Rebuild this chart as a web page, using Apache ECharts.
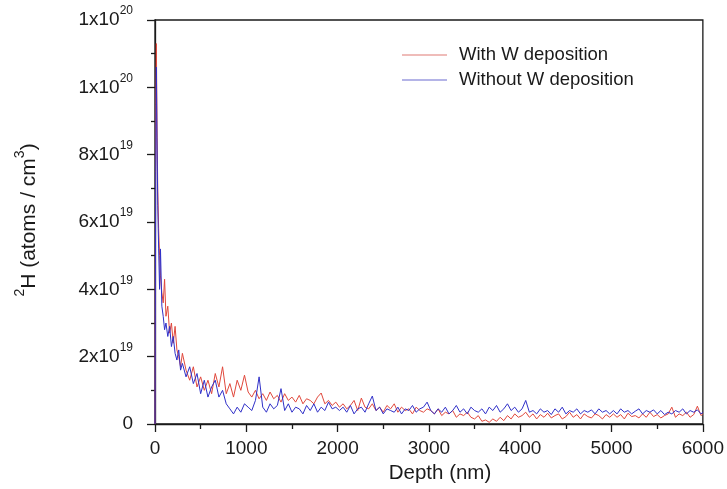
<!DOCTYPE html>
<html>
<head>
<meta charset="utf-8">
<script src="https://cdn.jsdelivr.net/npm/echarts@6/dist/echarts.min.js"></script>
<style>html,body{margin:0;padding:0;background:#fff}#c{width:727px;height:489px}</style>
</head>
<body>
<div id="c"></div>
<script>
// Depth in nm
var depth = [0,8,15,22,30,40,50,60,75,90,105,120,140,160,180,200,220,240,260,280,300,
340,380,420,460,500,540,580,620,660,700,740,780,820,860,900,940,980,
1020,1060,1100,1140,1180,1220,1260,1300,1340,1380,1420,1460,1500,1540,1580,1620,1660,1700,1740,1780,1820,1860,1900,1940,1980,
2020,2060,2100,2140,2180,2220,2260,2300,2340,2380,2420,2460,2500,2540,2580,2620,2660,2700,2740,2780,2820,2860,2900,2940,2980,
3020,3060,3100,3140,3180,3220,3260,3300,3340,3380,3420,3460,3500,3540,3580,3620,3660,3700,3740,3780,3820,3860,3900,3940,3980,
4020,4060,4100,4140,4180,4220,4260,4300,4340,4380,4420,4460,4500,4540,4580,4620,4660,4700,4740,4780,4820,4860,4900,4940,4980,
5020,5060,5100,5140,5180,5220,5260,5300,5340,5380,5420,5460,5500,5540,5580,5620,5660,5700,5740,5780,5820,5860,5900,5940,5980,
6000];
// 2H concentration, units of 1e19 atoms/cm3
var withW = [0,9.5,11.3,9.0,7.0,5.8,5.0,4.4,3.9,3.6,4.3,3.2,3.5,2.7,3.0,2.4,2.9,2.2,2.0,1.7,2.1,
1.6,1.3,1.7,1.1,1.4,1.0,1.3,0.9,1.5,1.1,1.7,0.9,1.2,0.8,1.3,1.0,1.45,
0.95,0.8,1.0,0.75,0.9,0.7,0.95,0.75,0.85,0.65,0.9,0.7,0.8,0.65,0.85,0.6,0.75,0.7,0.6,0.8,0.92,0.6,0.7,0.55,0.65,
0.5,0.6,0.45,0.55,0.7,0.4,0.77,0.5,0.45,0.6,0.4,0.5,0.35,0.55,0.45,0.6,0.35,0.5,0.4,0.45,0.3,0.5,0.4,0.35,0.45,
0.4,0.3,0.45,0.25,0.35,0.3,0.4,0.2,0.3,0.25,0.35,0.2,0.15,0.25,0.08,0.12,0.05,0.15,0.08,0.2,0.1,0.25,0.15,0.3,0.2,
0.25,0.35,0.2,0.3,0.15,0.28,0.2,0.32,0.18,0.25,0.3,0.15,0.22,0.35,0.2,0.28,0.15,0.3,0.22,0.18,0.3,0.25,0.15,0.28,0.2,
0.3,0.2,0.28,0.15,0.32,0.22,0.25,0.18,0.3,0.2,0.35,0.22,0.28,0.18,0.25,0.3,0.5,0.2,0.3,0.25,0.35,0.2,0.28,0.53,0.25,
0.3];
var withoutW = [0,7.5,10.6,8.5,6.5,5.2,4.0,5.2,3.5,3.2,2.8,3.0,2.6,2.9,2.3,2.6,2.1,1.9,2.2,1.6,1.8,
1.4,1.7,1.2,1.5,0.9,1.3,0.8,1.1,1.3,0.8,1.0,0.6,0.45,0.3,0.5,0.35,0.6,
0.5,0.4,0.7,1.4,0.5,0.35,0.6,0.45,0.55,1.05,0.4,0.6,0.35,0.5,0.45,0.3,0.55,0.4,0.6,0.35,0.5,0.4,0.65,0.45,0.5,
0.4,0.5,0.35,0.55,0.3,0.45,0.5,0.35,0.6,0.83,0.4,0.5,0.3,0.45,0.4,0.35,0.5,0.3,0.45,0.4,0.55,0.35,0.45,0.5,0.65,
0.4,0.3,0.45,0.35,0.5,0.3,0.4,0.55,0.35,0.45,0.3,0.5,0.4,0.35,0.45,0.3,0.5,0.4,0.55,0.35,0.45,0.6,0.4,0.5,0.35,
0.45,0.7,0.35,0.4,0.3,0.45,0.35,0.4,0.28,0.45,0.35,0.5,0.3,0.4,0.35,0.45,0.3,0.4,0.35,0.42,0.3,0.45,0.35,0.4,0.3,
0.4,0.3,0.45,0.35,0.4,0.3,0.38,0.45,0.3,0.4,0.35,0.42,0.3,0.4,0.28,0.35,0.3,0.4,0.35,0.45,0.3,0.4,0.35,0.42,0.3,
0.35];
var seriesNames = ['With W deposition', 'Without W deposition'];
var xTitle = 'Depth (nm)';
// y tick labels (value in 1e19 units -> mantissa, exponent)
var yTickValues = [0, 2, 4, 6, 8, 10, 12];
var yTickMantissa = ['0', '2', '4', '6', '8', '1', '1'];
var yTickExp = ['', '19', '19', '19', '19', '20', '20'];

function zip(xs, ys) { var o = []; for (var i = 0; i < xs.length; i++) o.push([xs[i], ys[i]]); return o; }

var chart = echarts.init(document.getElementById('c'));
var font = 'Liberation Sans, Arial, sans-serif';
var ink = '#1a1a1a';
chart.setOption({
  animation: false,
  backgroundColor: '#fff',
  grid: { left: 155, right: 22, top: 20, bottom: 65, show: true, borderColor: ink, borderWidth: 1.3, backgroundColor: 'transparent' },
  legend: {
    orient: 'vertical', left: 397, top: 39, itemWidth: 45, itemHeight: 1.2, itemGap: 3, icon: 'rect',
    textStyle: { fontFamily: font, fontSize: 18.5, color: ink, lineHeight: 22, padding: [0, 0, 0, 7] },
    data: [
      { name: seriesNames[0], itemStyle: { color: '#e07a74' } },
      { name: seriesNames[1], itemStyle: { color: '#6a6ad0' } }
    ]
  },
  xAxis: {
    type: 'value', min: 0, max: 6000, interval: 1000,
    axisLine: { show: true, onZero: false, lineStyle: { color: ink, width: 1.3 } },
    axisTick: { show: true, inside: false, length: 8, lineStyle: { color: ink, width: 1.3 } },
    minorTick: { show: true, splitNumber: 2, length: 5, lineStyle: { color: ink, width: 1.3 } },
    splitLine: { show: false },
    axisLabel: { fontFamily: font, fontSize: 19, color: ink, margin: 15, formatter: function (v) { return String(v); } }
  },
  yAxis: {
    type: 'value', min: 0, max: 12, interval: 2,
    axisLine: { show: true, onZero: false, lineStyle: { color: ink, width: 1.3 } },
    axisTick: { show: true, inside: false, length: 8, lineStyle: { color: ink, width: 1.3 } },
    minorTick: { show: true, splitNumber: 2, length: 4, lineStyle: { color: ink, width: 1.3 } },
    splitLine: { show: false },
    axisLabel: {
      margin: 22, fontFamily: font, color: ink,
      formatter: function (v) {
        var i = yTickValues.indexOf(v);
        if (i < 0) return '';
        if (!yTickExp[i]) return '{b|' + yTickMantissa[i] + '}';
        return '{b|' + yTickMantissa[i] + 'x10}{s|' + yTickExp[i] + '}';
      },
      rich: {
        b: { fontFamily: font, fontSize: 19, color: ink, lineHeight: 30 },
        s: { fontFamily: font, fontSize: 12, color: ink, verticalAlign: 'top', lineHeight: 12 }
      }
    }
  },
  graphic: [{
    type: 'text', x: 29, y: 220, rotation: Math.PI / 2,
    style: {
      text: '{s|2}{b|H (atoms / cm}{s|3}{b|)}', align: 'center', verticalAlign: 'middle',
      rich: {
        b: { fontFamily: font, fontSize: 21, fill: ink, lineHeight: 32 },
        s: { fontFamily: font, fontSize: 14, fill: ink, verticalAlign: 'top', lineHeight: 14 }
      }
    }
  }, {
    type: 'text', x: 440, y: 473,
    style: { text: xTitle, align: 'center', verticalAlign: 'middle', fontFamily: font, fontSize: 20.5, fill: ink }
  }],
  series: [
    { name: seriesNames[0], type: 'line', data: zip(depth, withW), symbol: 'none', lineStyle: { color: '#e0483c', width: 1 }, itemStyle: { color: '#e0483c' }, z: 2 },
    { name: seriesNames[1], type: 'line', data: zip(depth, withoutW), symbol: 'none', lineStyle: { color: '#3030c8', width: 1 }, itemStyle: { color: '#3030c8' }, z: 3 }
  ]
});
</script>
</body>
</html>
